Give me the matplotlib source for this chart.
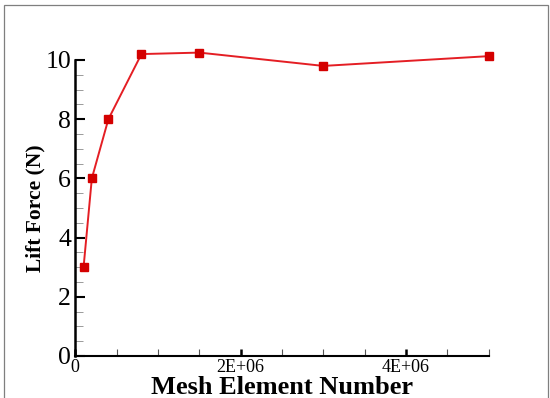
import matplotlib
matplotlib.use("Agg")
import matplotlib.pyplot as plt
from matplotlib.patches import Rectangle
from matplotlib.ticker import MultipleLocator, FuncFormatter

plt.rcParams["font.family"] = ["Liberation Serif", "DejaVu Serif"]

# mesh independence study
mesh_elements = [1e5, 2e5, 4e5, 8e5, 1.5e6, 3e6, 5e6]
lift_force = [3.0, 6.0, 8.0, 10.2, 10.25, 9.8, 10.13]

x_major = [0, 2e6, 4e6]
y_major = [0, 2, 4, 6, 8, 10]

LINE_RED = "#e41e24"
MARK_RED = "#d40000"

fig = plt.figure(figsize=(5.5, 3.98), dpi=100)
# thin grey frame around the picture
fig.add_artist(Rectangle((4 / 550, -0.05), 544 / 550, 1.05 - 5.5 / 398,
                         transform=fig.transFigure, fill=False,
                         edgecolor="#7f7f7f", linewidth=0.9))

ax = fig.add_axes([75.3 / 550, 42 / 398, 413.4 / 550, 296 / 398])
ax.plot(mesh_elements, lift_force, "-s", color=LINE_RED, lw=1.4,
        markerfacecolor=MARK_RED, markeredgecolor=MARK_RED, ms=6.3,
        clip_on=False, zorder=5)

ax.set_xlim(0, 5e6)
ax.set_ylim(0, 10)
ax.set_xticks(x_major)
ax.set_yticks(y_major)
ax.xaxis.set_minor_locator(MultipleLocator(5e5))
ax.yaxis.set_minor_locator(MultipleLocator(0.5))
ax.xaxis.set_major_formatter(FuncFormatter(lambda v, _: "0" if v == 0 else f"{v:.0E}"))

ax.spines[["top", "right"]].set_visible(False)
ax.spines["left"].set_linewidth(1.8)
ax.spines["bottom"].set_linewidth(1.5)

ax.tick_params(axis="y", which="major", direction="in", length=7.2, width=1.5,
               labelsize=18.5, pad=3)
ax.tick_params(axis="y", which="minor", direction="in", length=5.8, width=0.7,
               color="#9a9a9a")
ax.tick_params(axis="x", which="major", direction="in", length=5, width=1.8,
               labelsize=13, pad=2)
ax.tick_params(axis="x", which="minor", direction="in", length=5, width=0.8,
               color="#555555")

ax.set_xlabel("Mesh Element Number", fontsize=19, fontweight="bold", labelpad=0)
ax.set_ylabel("Lift Force (N)", fontsize=15.5, fontweight="bold", labelpad=0)

fig.savefig("out.png", dpi=100)
